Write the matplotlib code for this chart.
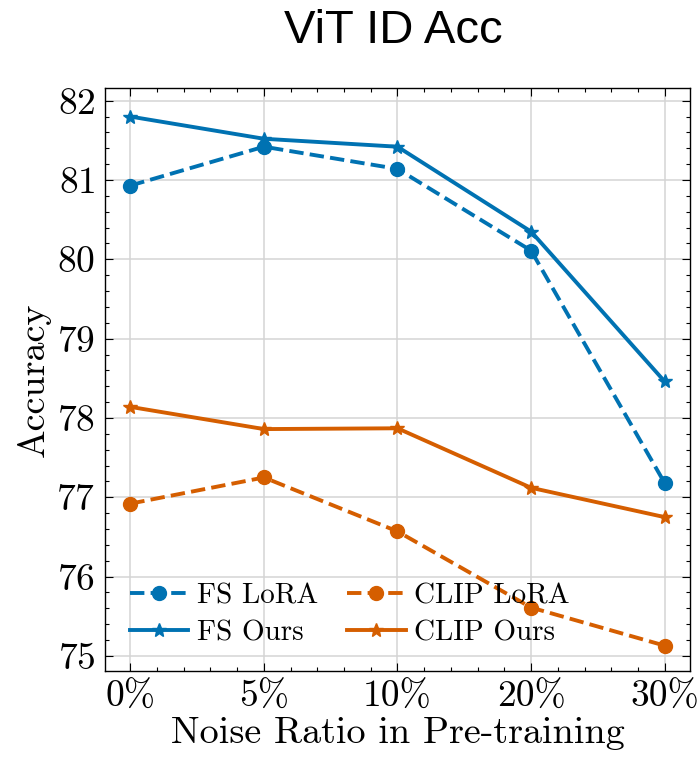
import matplotlib
matplotlib.use("Agg")
import matplotlib.pyplot as plt
import numpy as np
from matplotlib.ticker import MultipleLocator

# Noise ratios used during pre-training
noise_labels = ["0%", "5%", "10%", "20%", "30%"]

# In-distribution accuracy (ViT backbone)
fs_lora = [80.93, 81.42, 81.14, 80.11, 77.18]
fs_ours = [81.80, 81.52, 81.42, 80.35, 78.46]
clip_lora = [76.92, 77.25, 76.57, 75.61, 75.13]
clip_ours = [78.14, 77.86, 77.87, 77.12, 76.75]

plt.rcParams["font.family"] = "cmr10"
plt.rcParams["axes.formatter.use_mathtext"] = True

blue = "#0072B2"
orange = "#D55E00"

fig = plt.figure(figsize=(6.97, 7.6), dpi=100)
ax = fig.add_axes([0.1506, 0.1171, 0.8394, 0.7671])

x = np.arange(len(noise_labels))
ax.plot(x, fs_lora, "--o", color=blue, lw=2.8, ms=10, label="FS LoRA")
ax.plot(x, fs_ours, "-*", color=blue, lw=2.8, ms=10, label="FS Ours")
ax.plot(x, clip_lora, "--o", color=orange, lw=2.8, ms=10, label="CLIP LoRA")
ax.plot(x, clip_ours, "-*", color=orange, lw=2.8, ms=10, label="CLIP Ours")

ax.set_xlim(-0.19, 4.19)
ax.set_ylim(74.81, 82.16)
ax.set_xticks(x)
ax.set_xticklabels(noise_labels)
ax.xaxis.set_minor_locator(MultipleLocator(0.2))
ax.yaxis.set_major_locator(MultipleLocator(1))
ax.yaxis.set_minor_locator(MultipleLocator(0.2))

ax.tick_params(which="both", direction="in", top=True, right=True,
               labelsize=27, pad=7)
ax.tick_params(which="major", length=6, width=0.8)
ax.tick_params(which="minor", length=3, width=0.8)
ax.grid(True, which="major", color="#d4d4d4", lw=1.1)
for s in ax.spines.values():
    s.set_linewidth(1.0)

ax.set_xlabel("Noise Ratio in Pre-training", fontsize=27.5, labelpad=2)
ax.set_ylabel("Accuracy", fontsize=27.5, labelpad=4)

ax.legend(ncol=2, loc="lower left", frameon=False, fontsize=21,
          handlelength=2.0, handletextpad=0.3, columnspacing=1.0,
          labelspacing=0.35, borderaxespad=0.55, borderpad=0.3)

# title centred over the axes
fig.text(0.565, 0.943, "ViT ID Acc", ha="center", va="baseline",
         fontsize=34, family="Liberation Sans")

fig.savefig("out.png", dpi=100)
